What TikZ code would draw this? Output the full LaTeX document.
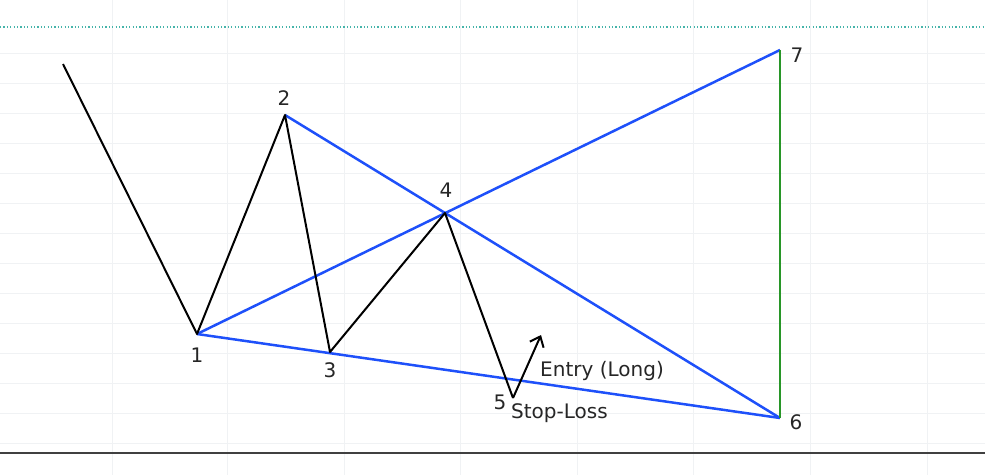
\documentclass[tikz,border=0pt]{standalone}
\usepackage{fontspec}
\setmainfont{DejaVu Sans}
\usetikzlibrary{arrows.meta}
\definecolor{wblue}{RGB}{30,80,250}
\definecolor{wgreen}{RGB}{40,150,40}
\definecolor{wteal}{RGB}{70,180,170}
\definecolor{wgrid}{RGB}{240,242,244}
\begin{document}
\begin{tikzpicture}[x=1pt,y=-1pt,
  wave/.style={draw=black,line width=2pt,line join=round},
  trend/.style={draw=wblue,line width=2.5pt},
  target/.style={draw=wgreen,line width=2.5pt},
  lbl/.style={font=\fontsize{20}{20}\selectfont,inner sep=0pt,text=black!85},
  pt/.style={coordinate}]
\useasboundingbox (0,0) rectangle (985,475);
\fill[white] (0,0) rectangle (985,475);
% grid
\foreach \gx in {112,227,344,460,577,693,810,927}
  \draw[wgrid,line width=0.8pt] (\gx,0) -- (\gx,475);
\foreach \gy in {53,83,...,443}
  \draw[wgrid,line width=0.8pt] (0,\gy) -- (985,\gy);
% top dotted, bottom rule
\draw[wteal,line width=1.2pt,dash pattern=on 1.2pt off 2.2pt] (0,27) -- (985,27);
\draw[black!75,line width=1.8pt] (0,453) -- (985,453);
% points
\node[pt] (s) at (63,64) {};
\node[pt] (p1) at (197,334) {};
\node[pt] (p2) at (285,115) {};
\node[pt] (p3) at (330,352) {};
\node[pt] (p4) at (445,213) {};
\node[pt] (p5) at (513,398) {};
\node[pt] (ent) at (541,335) {};
\node[pt] (p6) at (780,418) {};
\node[pt] (p7) at (780,50) {};
% trend lines
\draw[trend] (p1) -- (p7);
\draw[trend] (p2) -- (p6);
\draw[trend] (p1) -- (p6);
\draw[target] (p7) -- (p6);
% wave
\draw[wave] (s) -- (p1) -- (p2) -- (p3) -- (p4) -- (p5);
\draw[wave,-{Straight Barb[length=9pt,width=15pt,line width=2pt]}] (p5) -- (ent);
% labels
\node[lbl] (l1) at (197,355) {1};
\node[lbl] (l2) at (284,98) {2};
\node[lbl] (l3) at (330,370) {3};
\node[lbl] (l4) at (446,190) {4};
\node[lbl] (l5) at (500,402) {5};
\node[lbl] (l6) at (796,422) {6};
\node[lbl] (l7) at (797,55) {7};
\node[lbl,anchor=west] (sl) at (511,413) {Stop-Loss};
\node[lbl,anchor=west] (en) at (540,371) {Entry (Long)};
\end{tikzpicture}
\end{document}
